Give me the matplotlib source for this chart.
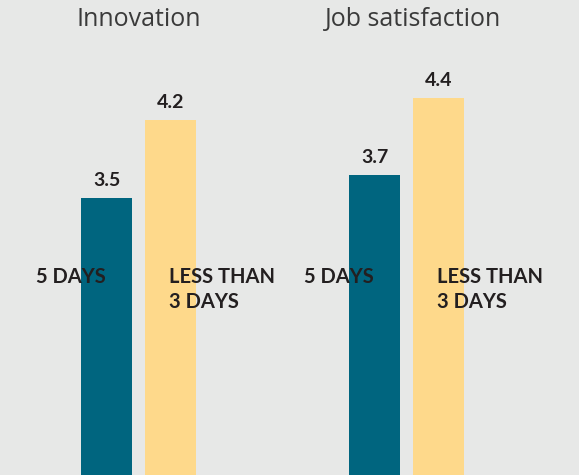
import numpy as np
import matplotlib.pyplot as plt

# data
panels = ["Innovation", "Job satisfaction"]
groups = ["5 DAYS", "LESS THAN\n3 DAYS"]
five_days = [3.5, 3.7]
less_than_3 = [4.2, 4.4]

teal = "#00657f"
yellow = "#fed98b"
bg = "#e7e8e7"
txt = "#231f20"

fig = plt.figure(figsize=(5.79, 4.75), dpi=100, facecolor=bg)
ax = fig.add_axes([0, 0, 1, 1])
ax.set_facecolor(bg)

x = np.arange(len(panels))
off = 0.119
w = 0.19
b1 = ax.bar(x - off, np.array(five_days) - 1, w, bottom=1, color=teal)
b2 = ax.bar(x + off, np.array(less_than_3) - 1, w, bottom=1, color=yellow)

for i in range(len(panels)):
    # value labels on top of bars
    ax.text(x[i] - off, five_days[i] + 0.08, f"{five_days[i]:.1f}", ha="center", va="bottom",
            fontsize=14, fontweight="bold", family="Lato", color=txt)
    ax.text(x[i] + off, less_than_3[i] + 0.08, f"{less_than_3[i]:.1f}", ha="center", va="bottom",
            fontsize=14, fontweight="bold", family="Lato", color=txt)
    # category labels
    ax.text(x[i] - off - 0.134, 2.87, groups[0], ha="center", va="top",
            fontsize=14.5, fontweight="bold", family="Lato", color=txt)
    ax.text(x[i] + off - 0.005, 2.87, groups[1], ha="left", va="top", linespacing=1.3,
            fontsize=14.5, fontweight="bold", family="Lato", color=txt)
    # panel titles
    ax.text(x[i] + (0.0 if i == 0 else 0.025), 5.1, panels[i], ha="center", va="center",
            fontsize=18, fontweight="normal", family="Open Sans", color="#3a3a3a")

ax.set_xlim(-0.517, 1.644)
ax.set_ylim(1.0, 5.28)
ax.axis("off")

fig.savefig("out.png", dpi=100, facecolor=bg)
